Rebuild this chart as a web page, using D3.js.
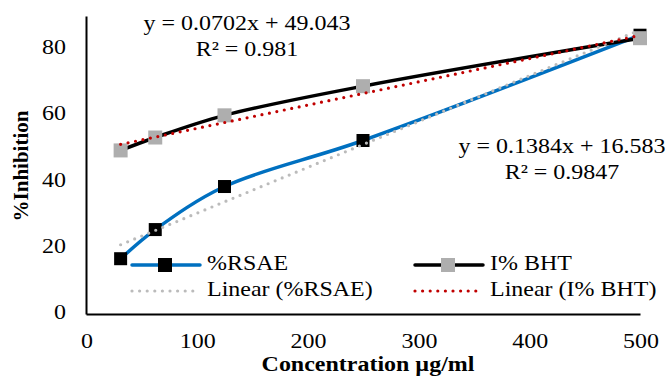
<!DOCTYPE html>
<html>
<head>
<meta charset="utf-8">
<script src="https://cdn.jsdelivr.net/npm/d3@7"></script>
<style>
  body { margin: 0; background: #fff; }
</style>
</head>
<body>
<svg id="chart" width="667" height="381"></svg>
<script>
// concentrations (µg/ml)
const concentrations = [31.25, 62.5, 125, 250, 500];
const rsae = [16.7, 25.5, 38.5, 52.4, 84.2];
const bht = [49.4, 53.3, 60.0, 68.8, 83.3];
const xTicks = [0, 100, 200, 300, 400, 500];
const yTicks = [0, 20, 40, 60, 80];
// trendline coefficients as printed on the chart
const rsaeFit = { slope: 0.1384, intercept: 16.583, r2: "0.9847" };
const bhtFit = { slope: 0.0702, intercept: 49.043, r2: "0.981" };

const serif = "'Liberation Serif', 'Times New Roman', Times, serif";
const stretch = 1.09; // the picture is a little wider than tall
const svg = d3.select("#chart");
const margin = { left: 86, right: 27, top: 16, bottom: 67 };
const width = 667, height = 381;

const x = d3.scaleLinear().domain([0, 500]).range([margin.left, width - margin.right]);
const y = d3.scaleLinear().domain([0, 90]).range([height - margin.bottom, margin.top]);

// text helper, stretched horizontally like the source
function label(px, py, str, opts = {}) {
  return svg.append("text")
    .attr("transform", "translate(" + px + "," + py + ") scale(" + stretch + ",1)")
    .attr("text-anchor", opts.anchor || "middle")
    .attr("dominant-baseline", opts.baseline || "middle")
    .style("font-family", serif)
    .style("font-size", (opts.size || 22) + "px")
    .style("font-weight", opts.bold ? "bold" : "normal")
    .attr("fill", "#000")
    .text(str);
}

// axes
svg.append("g")
  .attr("transform", "translate(0," + y(0) + ")")
  .call(d3.axisBottom(x).tickValues(xTicks).tickSize(0).tickPadding(14))
  .call(g => g.select(".domain").attr("stroke", "#000").attr("stroke-width", 2))
  .call(g => g.selectAll("text").remove());

svg.append("g")
  .attr("transform", "translate(" + x(0) + ",0)")
  .call(d3.axisLeft(y).tickValues(yTicks).tickSize(0).tickPadding(14))
  .call(g => g.select(".domain").attr("stroke", "#000").attr("stroke-width", 2))
  .call(g => g.selectAll("text").remove());

xTicks.forEach(t => label(x(t) + 1, y(0) + 29, d3.format("d")(t)));
yTicks.forEach(t => label(x(0) - 20, y(t), d3.format("d")(t), { anchor: "end" }));

// axis titles
label((x(0) + x(500)) / 2 + 5, 366, "Concentration µg/ml", { bold: true });

svg.append("text")
  .attr("transform", "translate(23,166) rotate(-90)")
  .attr("text-anchor", "middle")
  .attr("dominant-baseline", "middle")
  .style("font-family", serif)
  .style("font-size", "21px")
  .style("font-weight", "bold")
  .text("%Inhibition");

const rsaeData = concentrations.map((c, i) => [c, rsae[i]]);
const bhtData = concentrations.map((c, i) => [c, bht[i]]);

const smooth = d3.line()
  .x(d => x(d[0]))
  .y(d => y(d[1]))
  .curve(d3.curveCatmullRom.alpha(0.5));

// series: %RSAE first, BHT drawn on top
svg.append("path").datum(rsaeData)
  .attr("d", smooth).attr("fill", "none")
  .attr("stroke", "#0070C0").attr("stroke-width", 3.5);

svg.selectAll(".rsaeMark").data(rsaeData).enter().append("rect")
  .attr("x", d => x(d[0]) - 6.5).attr("y", d => y(d[1]) - 6.5)
  .attr("width", 13).attr("height", 13).attr("fill", "#000");

svg.append("path").datum(bhtData)
  .attr("d", smooth).attr("fill", "none")
  .attr("stroke", "#000").attr("stroke-width", 3.5);

svg.selectAll(".bhtMark").data(bhtData).enter().append("rect")
  .attr("x", d => x(d[0]) - 7).attr("y", d => y(d[1]) - 7)
  .attr("width", 14).attr("height", 14).attr("fill", "#AEAEAE");

// trendlines
function trend(fit, color) {
  const x0 = concentrations[0], x1 = concentrations[concentrations.length - 1];
  svg.append("line")
    .attr("x1", x(x0)).attr("y1", y(fit.slope * x0 + fit.intercept))
    .attr("x2", x(x1)).attr("y2", y(fit.slope * x1 + fit.intercept))
    .attr("stroke", color).attr("stroke-width", 3.2)
    .attr("stroke-linecap", "round")
    .attr("stroke-dasharray", "0 7.6");
}
trend(rsaeFit, "#BBBBBB");
trend(bhtFit, "#C00000");

// equations
function equation(fit, cx, cy) {
  label(cx, cy, "y = " + fit.slope + "x + " + fit.intercept);
  label(cx, cy + 26, "R² = " + fit.r2);
}
equation(bhtFit, 247, 25);
equation(rsaeFit, 562, 148);

// legend
const legend = [
  { label: "%RSAE", color: "#0070C0", mark: "#000", lx: 130, ly: 265 },
  { label: "I% BHT", color: "#000", mark: "#AEAEAE", lx: 413, ly: 265 },
  { label: "Linear (%RSAE)", color: "#BBBBBB", dotted: true, lx: 130, ly: 291 },
  { label: "Linear (I% BHT)", color: "#C00000", dotted: true, lx: 413, ly: 291 }
];
legend.forEach(d => {
  const ln = svg.append("line")
    .attr("x1", d.lx + 2).attr("x2", d.lx + 70)
    .attr("y1", d.ly).attr("y2", d.ly)
    .attr("stroke", d.color);
  if (d.dotted) {
    ln.attr("stroke-width", 3.2).attr("stroke-linecap", "round").attr("stroke-dasharray", "0 7.6");
  } else {
    ln.attr("stroke-width", 3.5).attr("stroke-linecap", "round");
    svg.append("rect").attr("x", d.lx + 35 - 7).attr("y", d.ly - 7)
      .attr("width", 14).attr("height", 14).attr("fill", d.mark);
  }
  label(d.lx + 77, d.ly, d.label, { anchor: "start" });
});
</script>
</body>
</html>
